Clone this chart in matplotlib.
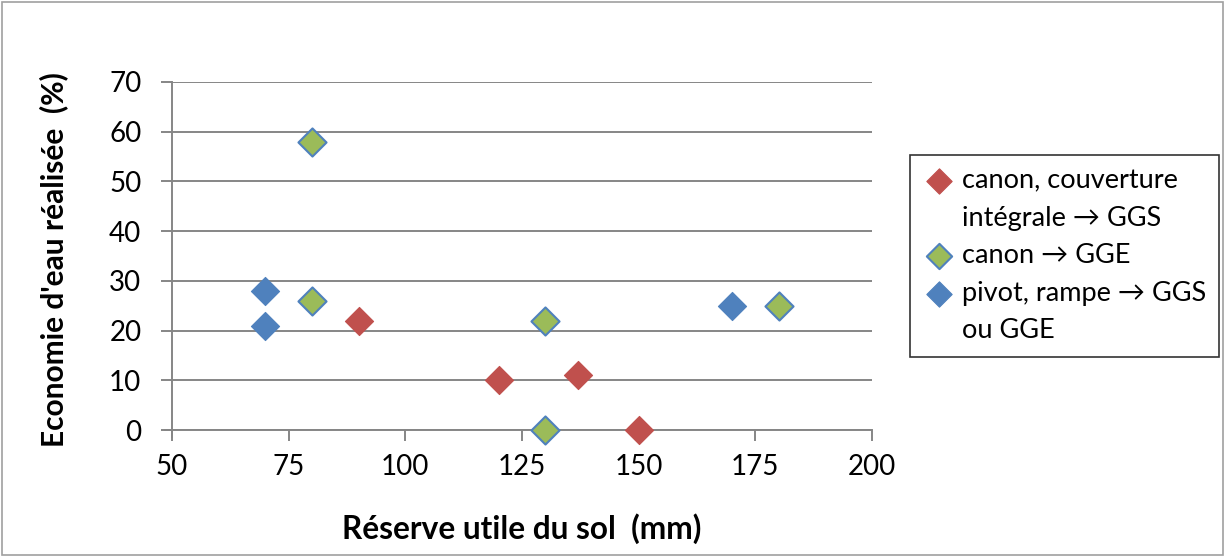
import matplotlib.pyplot as plt
from matplotlib.lines import Line2D
from matplotlib.patches import Rectangle

plt.rcParams['font.family'] = ['Lato', 'DejaVu Sans']

# data
red_x = [90, 120, 137, 150]
red_y = [22, 10, 11, 0]
green_x = [80, 80, 130, 130, 180]
green_y = [58, 26, 22, 0, 25]
blue_x = [70, 70, 170]
blue_y = [28, 21, 25]

# legend rows as Excel wraps them (continuation rows have no marker)
legend_rows = ['canon, couverture', 'intégrale \u2192 GGS',
               'canon \u2192 GGE',
               'pivot, rampe \u2192 GGS', 'ou GGE']
x_ticks = [50, 75, 100, 125, 150, 175, 200]
y_ticks = [0, 10, 20, 30, 40, 50, 60, 70]

RED = '#C0504D'
GREEN = '#9BBB59'
BLUE = '#4F81BD'
GRID = '#868686'

fig = plt.figure(figsize=(12.25, 5.57), dpi=100)
fig.patches.append(Rectangle((0.002, 0.003), 0.996, 0.994, transform=fig.transFigure,
                             fill=False, edgecolor='#A0A0A0', lw=1.2))
ax = fig.add_axes([0.1404, 0.228, 0.5714, 0.625])

ms = 205
sc_red = ax.scatter(red_x, red_y, marker='D', s=ms, color=RED, edgecolors=RED,
                    linewidths=0.8, zorder=3, clip_on=False)
sc_green = ax.scatter(green_x, green_y, marker='D', s=ms, color=GREEN, edgecolors=BLUE,
                      linewidths=1.5, zorder=3, clip_on=False)
sc_blue = ax.scatter(blue_x, blue_y, marker='D', s=ms, color=BLUE, edgecolors=BLUE,
                     linewidths=0.8, zorder=3, clip_on=False)

ax.set_xlim(50, 200)
ax.set_ylim(0, 70)
ax.set_xticks(x_ticks)
ax.set_yticks(y_ticks)
ax.yaxis.grid(True, color=GRID, lw=1.4)
ax.set_axisbelow(True)
for s in ['top', 'right']:
    ax.spines[s].set_visible(False)
for s in ['left', 'bottom']:
    ax.spines[s].set_color(GRID)
    ax.spines[s].set_linewidth(1.4)
ax.tick_params(axis='both', colors=GRID, width=1.4, length=8, labelsize=20,
               labelcolor='black')
ax.tick_params(axis='x', pad=9)
ax.tick_params(axis='y', pad=14)
ax.spines['left'].set_bounds(-1.5, 70)
ax.spines['bottom'].set_bounds(50 - 1.4, 200)

ax.set_xlabel('Réserve utile du sol  (mm)', fontsize=22.8, fontweight='bold')
ax.set_ylabel("Economie d'eau réalisée  (%)", fontsize=21.5, fontweight='bold')
ax.xaxis.set_label_coords(0.5, -0.238)
ax.yaxis.set_label_coords(-0.148, 0.49)

blank = Line2D([], [], linestyle='none')
handles = [sc_red, blank, sc_green, sc_blue, blank]
leg = fig.legend(handles, legend_rows, loc='upper left', bbox_to_anchor=(0.743, 0.722),
                 borderaxespad=0, fontsize=19.5, frameon=True, fancybox=False,
                 edgecolor='black', handletextpad=0.25, labelspacing=0.46,
                 borderpad=0.5, handlelength=1.15, markerscale=0.9)
leg.get_frame().set_linewidth(1.2)

fig.savefig('out.png', dpi=100)
